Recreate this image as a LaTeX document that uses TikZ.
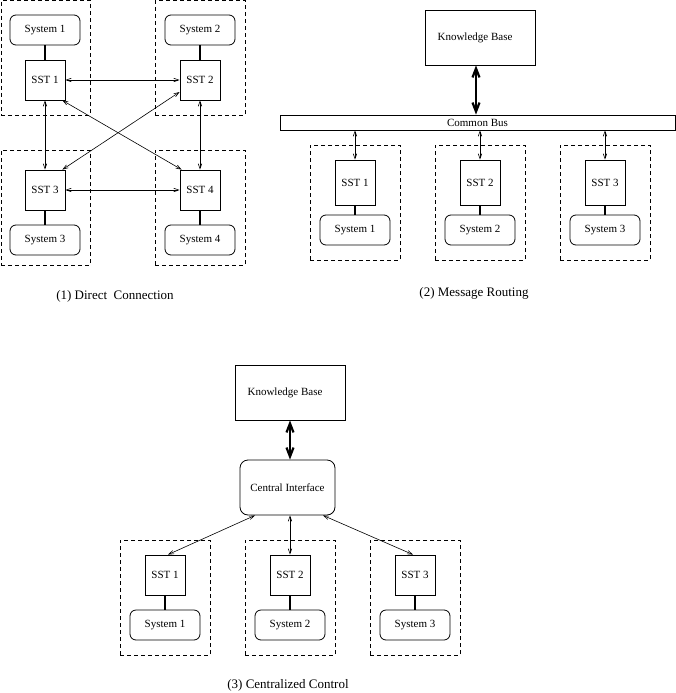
\documentclass[tikz,border=0pt]{standalone}
\usepackage{fontspec}
\setmainfont{Liberation Serif}
\usetikzlibrary{arrows.meta}
\begin{document}
\begin{tikzpicture}[x=1pt,y=-1pt,
  every node/.style={inner sep=0pt, font=\fontsize{11}{13}\selectfont},
  sstbox/.style={draw, line width=0.8pt, minimum width=40pt, minimum height=40pt},
  sysbox/.style={draw, line width=0.8pt, rounded corners=6pt, minimum width=70pt, minimum height=30pt},
  kbbox/.style={draw, line width=0.8pt, minimum width=110pt, minimum height=55pt},
  grp/.style={draw, line width=0.8pt, dash pattern=on 4pt off 3pt, minimum width=90pt, minimum height=115pt},
  tie/.style={line width=2pt},
  link/.style={line width=0.6pt, {Straight Barb[length=5pt,width=3.5pt]}-{Straight Barb[length=5pt,width=3.5pt]}},
  biglink/.style={line width=2.2pt, {Straight Barb[length=9pt,width=7pt]}-{Straight Barb[length=9pt,width=7pt]}},
  caption/.style={font=\fontsize{13}{15}\selectfont}
]
\useasboundingbox (0,0) rectangle (676,693);

% ---------- Panel 1 ----------
\node[grp, minimum width=89pt, minimum height=114.5pt] (g11) at (45.5,57.75) {};
\node[grp, minimum height=114.5pt] (g12) at (200,57.75) {};
\node[grp, minimum width=89pt] (g13) at (45.5,207.5) {};
\node[grp] (g14) at (200,207.5) {};

\node[sysbox] (p1y1) at (45,30) {System 1};
\node[sstbox] (p1s1) at (45,80) {SST 1};
\node[sysbox] (p1y2) at (200,30) {System 2};
\node[sstbox] (p1s2) at (200,80) {SST 2};
\node[sstbox] (p1s3) at (45,190) {SST 3};
\node[sysbox] (p1y3) at (45,240) {System 3};
\node[sstbox] (p1s4) at (200,190) {SST 4};
\node[sysbox] (p1y4) at (200,240) {System 4};

\draw[tie] (p1y1) -- (p1s1);
\draw[tie] (p1y2) -- (p1s2);
\draw[tie] (p1y3) -- (p1s3);
\draw[tie] (p1y4) -- (p1s4);

\draw[link] (p1s1) -- (p1s2);
\draw[link] (p1s3) -- (p1s4);
\draw[link] (p1s1) -- (p1s3);
\draw[link] (p1s2) -- (p1s4);
\draw[link] ([xshift=-3pt]p1s1.south east) -- ([xshift=2pt]p1s4.north west);
\draw[link] ([yshift=-12pt]p1s2.west) -- ([xshift=-3pt]p1s3.north east);

\node[caption] (cap1) at (115,296) {(1) Direct\ \ Connection};

% ---------- Panel 2 ----------
\node[kbbox] (kb2) at (480,37.5) {\hspace*{-10pt}Knowledge Base};
\node[draw, line width=0.8pt, minimum width=395pt, minimum height=15pt] (bus) at (477.5,122.5) {Common Bus};
\draw[biglink] ([xshift=-4pt]kb2.south) -- ([xshift=-1.5pt]bus.north);

\node[grp] (g21) at (355,202.5) {};
\node[grp] (g22) at (480,202.5) {};
\node[grp] (g23) at (605,202.5) {};

\node[sstbox, minimum height=45pt] (p2s1) at (355,182.5) {SST 1};
\node[sstbox, minimum height=45pt] (p2s2) at (480,182.5) {SST 2};
\node[sstbox, minimum height=45pt] (p2s3) at (605,182.5) {SST 3};
\node[sysbox] (p2y1) at (355,230) {System 1};
\node[sysbox] (p2y2) at (480,230) {System 2};
\node[sysbox] (p2y3) at (605,230) {System 3};

\draw[tie] (p2s1) -- (p2y1);
\draw[tie] (p2s2) -- (p2y2);
\draw[tie] (p2s3) -- (p2y3);

\draw[link] (p2s1.north |- bus.south) -- (p2s1.north);
\draw[link] (p2s2.north |- bus.south) -- (p2s2.north);
\draw[link] (p2s3.north |- bus.south) -- (p2s3.north);

\node[caption] (cap2) at (474,293) {(2) Message Routing};

% ---------- Panel 3 ----------
\node[kbbox] (kb3) at (290,392.5) {\hspace*{-10pt}Knowledge Base};
\node[draw, line width=0.8pt, rounded corners=8pt, minimum width=95pt, minimum height=55pt] (ci) at (287.5,487.5) {Central Interface};
\draw[biglink] (kb3.south) -- (kb3.south |- ci.north);

\node[grp] (g31) at (165,597.5) {};
\node[grp] (g32) at (290,597.5) {};
\node[grp] (g33) at (415,597.5) {};

\node[sstbox] (p3s1) at (165,575) {SST 1};
\node[sstbox] (p3s2) at (290,575) {SST 2};
\node[sstbox] (p3s3) at (415,575) {SST 3};
\node[sysbox] (p3y1) at (165,625) {System 1};
\node[sysbox] (p3y2) at (290,625) {System 2};
\node[sysbox] (p3y3) at (415,625) {System 3};

\draw[tie] (p3s1) -- (p3y1);
\draw[tie] (p3s2) -- (p3y2);
\draw[tie] (p3s3) -- (p3y3);

\draw[link] ([xshift=-32.5pt]ci.south) -- ([xshift=3pt]p3s1.north);
\draw[link] (p3s2.north |- ci.south) -- (p3s2.north);
\draw[link] ([xshift=35.5pt]ci.south) -- ([xshift=-2pt]p3s3.north);

\node[caption] (cap3) at (288,685) {(3) Centralized Control};
\end{tikzpicture}
\end{document}
